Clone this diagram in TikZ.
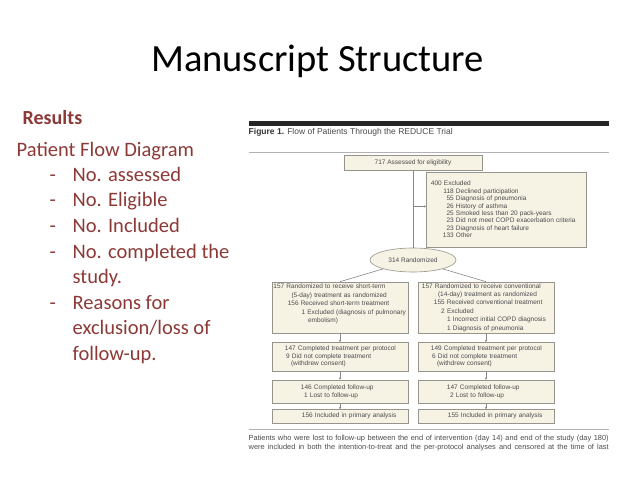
\documentclass[tikz,border=0pt]{standalone}
\usepackage{fontspec}
\setmainfont{Carlito}
\newfontfamily\flowfont{Liberation Sans}
\usetikzlibrary{arrows.meta,shapes.geometric}
\definecolor{maroon}{RGB}{140,58,55}
\definecolor{boxfill}{RGB}{246,242,228}
\definecolor{boxdraw}{RGB}{150,148,140}
\definecolor{linec}{RGB}{135,135,135}
\definecolor{figtext}{RGB}{75,75,75}
\newcommand\flent[3]{\hspace*{#1pt}\llap{#2\ }#3}
\begin{document}
\begin{tikzpicture}[x=1pt,y=-1pt,
  txt/.style={inner sep=0pt,anchor=base west},
  lst/.style={txt,text=maroon,font=\fontsize{20.5}{24}\selectfont},
  fbox/.style={draw=boxdraw,fill=boxfill,line width=0.6pt,inner xsep=0pt,inner ysep=0pt,
    text=figtext,font=\flowfont\fontsize{6.5}{7.4}\selectfont},
  lbox/.style={fbox,align=left},
  ln/.style={draw=linec,line width=0.6pt},
  arr/.style={ln,-{Stealth[length=2.4pt,width=2.4pt]}}]
\useasboundingbox (0,0) rectangle (638,479);
\fill[white] (0,0) rectangle (638,479);
% slide texts
\node[txt,font=\fontsize{38.5}{44}\selectfont] (title) at (151,71.5) {Manuscript Structure};
\node[txt,text=maroon,font=\bfseries\fontsize{20}{24}\selectfont] (results) at (22.5,124) {Results};
\node[lst] (pfd) at (16.5,156) {Patient Flow Diagram};
\node[lst] (d1) at (49.5,181.7) {-};
\node[lst] (t1) at (72.5,181.7) {No. assessed};
\node[lst] (d2) at (49.5,206.9) {-};
\node[lst] (t2) at (72.5,206.9) {No. Eligible};
\node[lst] (d3) at (49.5,232.6) {-};
\node[lst] (t3) at (72.5,232.6) {No. Included};
\node[lst] (d4) at (49.5,258.2) {-};
\node[lst] (t4) at (72.5,258.2) {No. completed the};
\node[lst] (t4b) at (72.5,283.8) {study.};
\node[lst] (d5) at (49.5,309.3) {-};
\node[lst] (t5) at (72.5,309.3) {Reasons for};
\node[lst] (t5b) at (72.5,334.9) {exclusion/loss of};
\node[lst] (t5c) at (72.5,360.4) {follow-up.};
% figure frame
\draw[line width=4.6pt,color=black!85] (249,123.2) -- (609,123.2);
\node[txt,anchor=west,text=figtext,font=\flowfont\fontsize{8.5}{10}\selectfont] (ftitle) at (248.5,132.5)
  {{\bfseries\color{black!80}Figure 1.} Flow of Patients Through the REDUCE Trial};
\draw[line width=0.8pt,color=black!30] (249,152.3) -- (609,152.3);
\draw[line width=0.8pt,color=black!30] (249,429.3) -- (609,429.3);
\node[txt,anchor=west,text=figtext,font=\flowfont\fontsize{7.4}{9}\selectfont,align=left] (cap) at (248.5,443.5)
  {\makebox[360pt][s]{Patients who were lost to follow-up between the end of intervention (day 14) and end of the study (day 180)}\\
   \makebox[360pt][s]{were included in both the intention-to-treat and the per-protocol analyses and censored at the time of last}};
% flow boxes
\node[fbox,minimum width=138pt,minimum height=15pt] (assess) at (413,162.5) {717 Assessed for eligibility};
\node[lbox,minimum width=159.5pt,minimum height=75pt,text width=159.5pt] (excl) at (506.25,209.5)
  {\flent{17.5}{400}{Excluded}\\
   \flent{29.5}{118}{Declined participation}\\
   \flent{29.5}{55}{Diagnosis of pneumonia}\\
   \flent{29.5}{26}{History of asthma}\\
   \flent{29.5}{25}{Smoked less than 20 pack-years}\\
   \flent{29.5}{23}{Did not meet COPD exacerbation criteria}\\
   \flent{29.5}{23}{Diagnosis of heart failure}\\
   \flent{29.5}{133}{Other}};
\node[fbox,ellipse,inner sep=0pt,minimum width=86pt,minimum height=24pt] (rand) at (413,260) {314 Randomized};
\node[lbox,minimum width=136pt,minimum height=51pt,text width=136pt,
  font=\flowfont\fontsize{6.5}{8.4}\selectfont] (L2) at (340,307.5)
  {\flent{14.5}{157}{Randomized to receive short-term}\\
   \hspace*{19.5pt}(5-day) treatment as randomized\\
   \flent{28.8}{156}{Received short-term treatment}\\
   \flent{35.3}{1}{Excluded (diagnosis of pulmonary}\\
   \hspace*{36pt}embolism)\\
   \mbox{}};
\node[lbox,minimum width=136pt,minimum height=51pt,text width=136pt,
  font=\flowfont\fontsize{6.5}{8.4}\selectfont] (R2) at (486,307.5)
  {\flent{17}{157}{Randomized to receive conventional}\\
   \hspace*{20pt}(14-day) treatment as randomized\\
   \flent{29}{155}{Received conventional treatment}\\
   \flent{29}{2}{Excluded}\\
   \flent{35}{1}{Incorrect initial COPD diagnosis}\\
   \flent{35}{1}{Diagnosis of pneumonia}};
\node[lbox,minimum width=136pt,minimum height=28.7pt,text width=136pt] (L3) at (340,356.7)
  {\flent{26}{147}{Completed treatment per protocol}\\
   \flent{20}{9}{Did not complete treatment}\\
   \hspace*{19pt}(withdrew consent)};
\node[lbox,minimum width=136pt,minimum height=28.7pt,text width=136pt] (R3) at (486,356.7)
  {\flent{26}{149}{Completed treatment per protocol}\\
   \flent{20}{6}{Did not complete treatment}\\
   \hspace*{19pt}(withdrew consent)};
\node[lbox,minimum width=136pt,minimum height=23.3pt,text width=136pt] (L4) at (340,391.7)
  {\flent{42}{146}{Completed follow-up}\\
   \flent{38}{1}{Lost to follow-up}};
\node[lbox,minimum width=136pt,minimum height=23.3pt,text width=136pt] (R4) at (486,391.7)
  {\flent{42}{147}{Completed follow-up}\\
   \flent{38}{2}{Lost to follow-up}};
\node[lbox,minimum width=136pt,minimum height=13.5pt,text width=136pt] (L5) at (340,416.3)
  {\flent{43}{156}{Included in primary analysis}};
\node[lbox,minimum width=136pt,minimum height=13.5pt,text width=136pt] (R5) at (486,416.3)
  {\flent{43}{155}{Included in primary analysis}};
% connectors
\draw[ln] (assess) -- (rand);
\coordinate (tr) at (413,206.5);
\draw[arr] (tr) -- (tr -| excl.west);
\draw[ln] (rand) -- (L2.north);
\draw[ln] (rand) -- (R2.north);
\draw[arr] (L2) -- (L3);
\draw[arr] (R2) -- (R3);
\draw[arr] (L3) -- (L4);
\draw[arr] (R3) -- (R4);
\draw[arr] (L4) -- (L5);
\draw[arr] (R4) -- (R5);
\end{tikzpicture}
\end{document}
